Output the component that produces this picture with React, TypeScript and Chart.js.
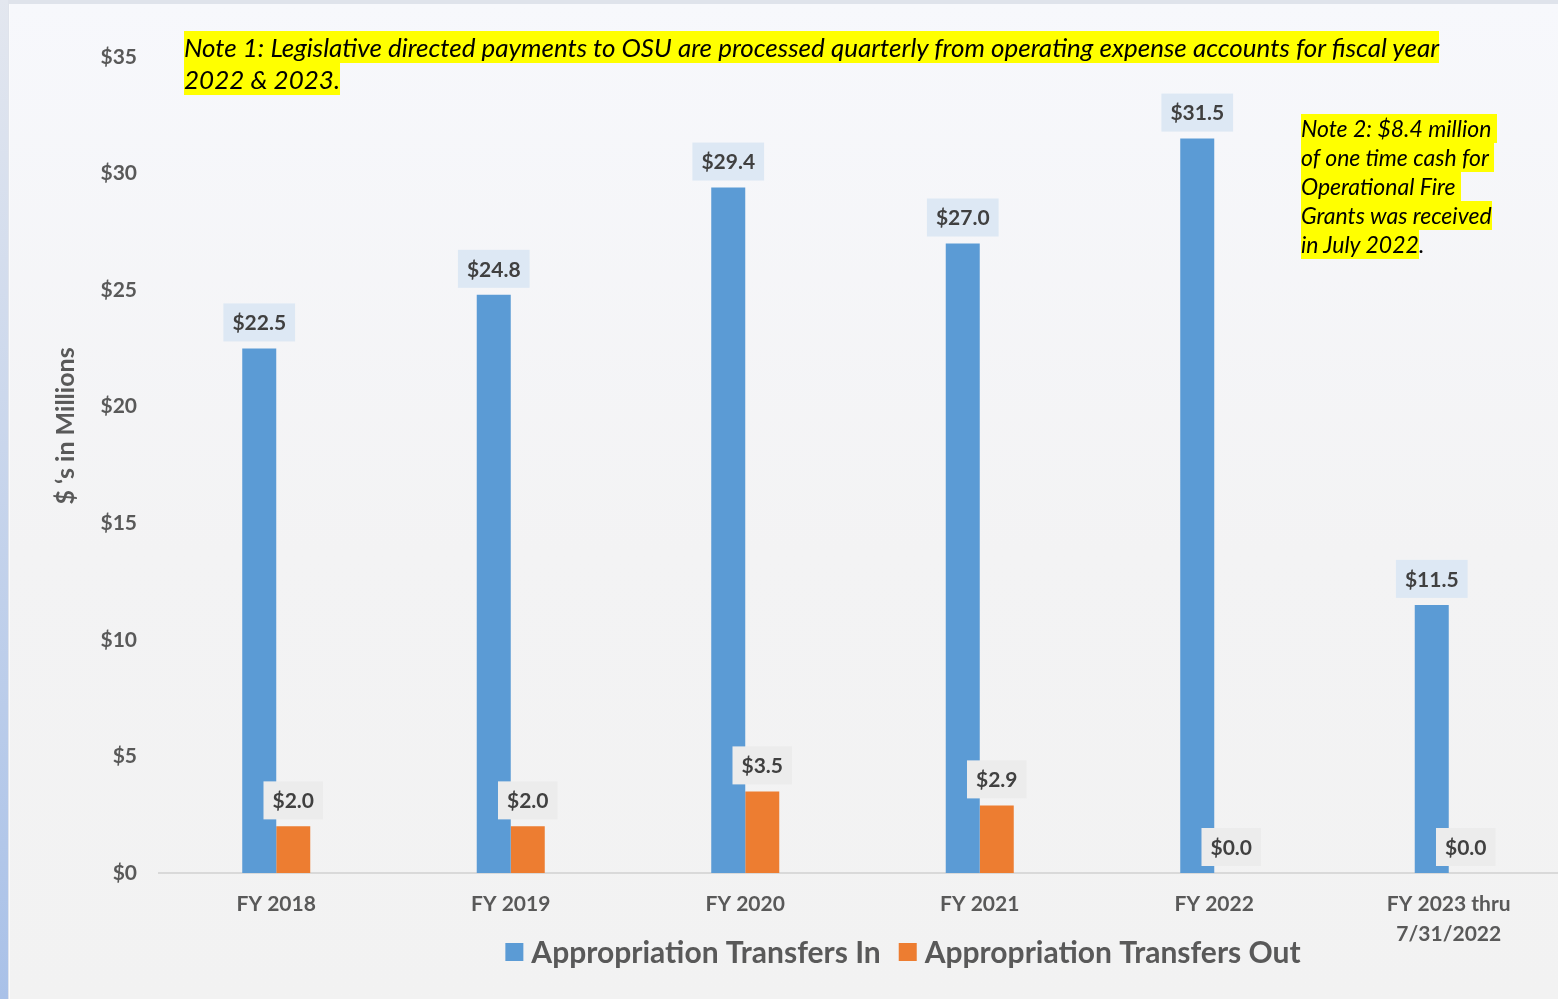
import React, { useEffect, useRef } from "react";
import { Chart, registerables } from "chart.js";

Chart.register(...registerables);

const categories: (string | string[])[] = [
  "FY 2018",
  "FY 2019",
  "FY 2020",
  "FY 2021",
  "FY 2022",
  ["FY 2023 thru", "7/31/2022"],
];
const transfersIn = [22.5, 24.8, 29.4, 27.0, 31.5, 11.5];
const transfersOut = [2.0, 2.0, 3.5, 2.9, 0.0, 0.0];
const seriesNames = ["Appropriation Transfers In", "Appropriation Transfers Out"];
const yTickValues = [0, 5, 10, 15, 20, 25, 30, 35];
const yTitle = "$ \u2018s in Millions";
const note1Lines = [
  "Note 1: Legislative directed payments to OSU are processed quarterly from operating expense accounts for fiscal year",
  "2022 & 2023.",
];
const note2Lines = [
  "Note 2: $8.4 million ",
  "of one time cash for ",
  "Operational Fire ",
  "Grants was received",
  "in July 2022",
];

const FONT = "Lato, 'Noto Sans', sans-serif";
const BLUE = "#5b9bd5";
const ORANGE = "#ed7d31";
const GRAY_TEXT = "#595959";

const labelsPlugin = {
  id: "valueLabels",
  afterDatasetsDraw(chart: any) {
    const ctx = chart.ctx;
    ctx.save();
    ctx.font = `bold 21px ${FONT}`;
    ctx.textAlign = "center";
    ctx.textBaseline = "middle";
    chart.data.datasets.forEach((ds: any, di: number) => {
      const meta = chart.getDatasetMeta(di);
      meta.data.forEach((el: any, i: number) => {
        const v = ds.data[i];
        const txt = "$" + v.toFixed(1);
        const w = ctx.measureText(txt).width + 18;
        const h = 38;
        const bottom = el.y - 7;
        ctx.fillStyle = di === 0 ? "#dde8f4" : "#ececec";
        ctx.fillRect(el.x - w / 2, bottom - h, w, h);
        ctx.fillStyle = "#404040";
        ctx.fillText(txt, el.x, bottom - h / 2 + 1);
      });
    });
    ctx.restore();
  },
};

const extrasPlugin = {
  id: "extras",
  afterDraw(chart: any) {
    const ctx = chart.ctx;
    ctx.save();
    // y axis title
    ctx.translate(66, 426);
    ctx.rotate(-Math.PI / 2);
    ctx.font = `bold 25px ${FONT}`;
    ctx.fillStyle = GRAY_TEXT;
    ctx.textAlign = "center";
    ctx.textBaseline = "middle";
    ctx.fillText(yTitle, 0, 0);
    ctx.restore();

    // legend
    ctx.save();
    ctx.font = `bold 30px ${FONT}`;
    ctx.textBaseline = "middle";
    ctx.textAlign = "left";
    const box = 18;
    const gap = 8;
    const itemGap = 18;
    const items = chart.data.datasets.map((ds: any) => ({
      label: ds.label,
      color: ds.backgroundColor,
      w: box + gap + ctx.measureText(ds.label).width,
    }));
    const total = items.reduce((a: number, b: any) => a + b.w, 0) + itemGap * (items.length - 1);
    let x = 903 - total / 2;
    const cy = 952;
    items.forEach((it: any) => {
      ctx.fillStyle = it.color;
      ctx.fillRect(x, cy - box / 2, box, box);
      ctx.fillStyle = GRAY_TEXT;
      ctx.fillText(it.label, x + box + gap, cy + 1);
      x += it.w + itemGap;
    });
    ctx.restore();
  },
};

export default function App() {
  const ref = useRef<HTMLCanvasElement>(null);
  useEffect(() => {
    if (!ref.current) return;
    const chart = new Chart(ref.current, {
      type: "bar",
      data: {
        labels: categories,
        datasets: [
          {
            label: seriesNames[0],
            data: transfersIn,
            backgroundColor: BLUE,
            categoryPercentage: 0.29,
            barPercentage: 1,
          },
          {
            label: seriesNames[1],
            data: transfersOut,
            backgroundColor: ORANGE,
            categoryPercentage: 0.29,
            barPercentage: 1,
          },
        ],
      } as any,
      options: {
        animation: false,
        responsive: false,
        devicePixelRatio: 1,
        layout: { padding: { left: 0, right: 9, top: 57, bottom: 0 } },
        plugins: {
          legend: { display: false },
          tooltip: { enabled: false },
        },
        scales: {
          x: {
            grid: { display: false, drawTicks: false },
            border: { display: true, color: "#d9d9d9", width: 2 },
            ticks: {
              font: { family: FONT, size: 21, weight: "bold", lineHeight: 1.4 },
              color: GRAY_TEXT,
              padding: 17,
              maxRotation: 0,
              autoSkip: false,
            },
            afterFit(scale: any) {
              scale.height = 126;
            },
          },
          y: {
            min: 0,
            max: 35,
            grid: { display: false, drawTicks: false },
            border: { display: false },
            afterBuildTicks(scale: any) {
              scale.ticks = yTickValues.map((v) => ({ value: v }));
            },
            ticks: {
              stepSize: 5,
              font: { family: FONT, size: 21, weight: "bold" },
              color: GRAY_TEXT,
              padding: 22,
              callback: (v: any) => "$" + v,
            },
            afterFit(scale: any) {
              scale.width = 159;
            },
          },
        },
      } as any,
      plugins: [labelsPlugin, extrasPlugin],
    });
    return () => chart.destroy();
  }, []);

  return (
    <div
      style={{
        position: "fixed",
        left: 0,
        top: 0,
        width: 1558,
        height: 999,
        overflow: "hidden",
        background: "#dfe3eb",
      }}
    >
      <div
        style={{
          position: "absolute",
          left: 0,
          top: 0,
          width: 8,
          height: 999,
          background: "linear-gradient(to bottom, #e3e7ef, #a9c1e8)",
        }}
      />
      <div
        style={{
          position: "absolute",
          left: 9,
          top: 4,
          right: 0,
          bottom: 0,
          borderLeft: "1px solid #fafbfd",
          background: "linear-gradient(to bottom, #f7f8fc 0%, #f3f3f4 55%, #f2f2f2 100%)",
        }}
      />
      <canvas
        ref={ref}
        width={1575}
        height={999}
        style={{ position: "absolute", left: 0, top: 0, width: 1575, height: 999 }}
      />
      <div
        style={{
          position: "absolute",
          left: 184,
          top: 31,
          font: `italic 400 26px ${FONT}`,
          color: "#000",
        }}
      >
        {note1Lines.map((l, i) => (
          <div key={i} style={{ height: 32 }}>
            <span
              style={{
                display: "inline-block",
                background: "#ffff00",
                height: 32,
                lineHeight: "32px",
                whiteSpace: "pre",
              }}
            >
              {l}
            </span>
          </div>
        ))}
      </div>
      <div
        style={{
          position: "absolute",
          left: 1301,
          top: 114,
          font: `italic 400 23px ${FONT}`,
          color: "#000",
        }}
      >
        {note2Lines.map((l, i) => (
          <div key={i} style={{ height: 29, whiteSpace: "pre" }}>
            <span
              style={{
                display: "inline-block",
                background: "#ffff00",
                height: 29,
                lineHeight: "29px",
              }}
            >
              {l}
            </span>
            {i === note2Lines.length - 1 ? (
              <span style={{ lineHeight: "29px" }}>.</span>
            ) : null}
          </div>
        ))}
      </div>
    </div>
  );
}
